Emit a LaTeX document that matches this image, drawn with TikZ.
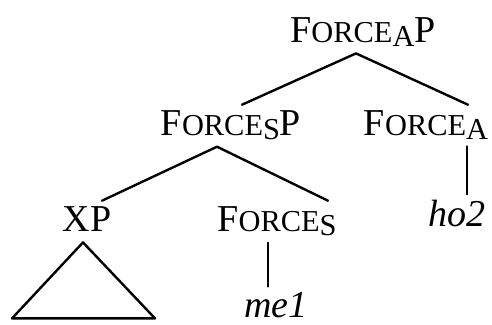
\documentclass[tikz,border=0pt]{standalone}
\usepackage{fontspec}
\setmainfont{Liberation Serif}
\usetikzlibrary{calc}

\newcommand{\smcap}[1]{{\fontsize{15.2pt}{18pt}\selectfont #1}}
\newcommand{\lowcap}[1]{\raisebox{-2pt}{\smcap{#1}}}

\begin{document}
\begin{tikzpicture}[
    x=0.5pt, y=-0.5pt,
    cat/.style={anchor=base, inner sep=3pt, font=\fontsize{19pt}{23pt}\selectfont},
    word/.style={cat, font=\fontsize{19pt}{23pt}\selectfont\itshape},
    branch/.style={line width=1.2pt, line cap=round, line join=round}
    ]
    \useasboundingbox (0,0) rectangle (492,325);

    % labels
    \node[cat] (fap) at (363,43) {F\smcap{ORCE}\lowcap{A}P};
    \node[cat] (fsp) at (231,136) {F\smcap{ORCE}\lowcap{S}P};
    \node[cat] (fa) at (426,136) {F\smcap{ORCE}\lowcap{A}};
    \node[cat] (xp) at (87,232) {XP};
    \node[cat] (fs) at (277,232) {F\smcap{ORCE}\lowcap{S}};
    \node[word] (ho) at (457,227) {ho2};
    \node[word, inner sep=0.5pt] (me) at (276,318) {me1};

    % branches
    \draw[branch] ($(fsp.north)+(11,0)$) -- ($(fap.south)+(-7,0)$) -- ($(fa.north)+(42,0)$);
    \draw[branch] ($(xp.north)+(15,0)$) -- ($(fsp.south)+(-14,0)$) -- ($(fs.north)+(51,0)$);
    \draw[branch] ($(fa.south)+(41,0)$) -- ($(ho.north)+(10,0)$);
    \draw[branch] ($(fs.south)+(-9,0)$) -- ($(me.north)+(-8,-5)$);

    % triangle
    \coordinate (tri) at ($(xp.south)+(-4,4)$);
    \draw[branch] (tri) -- ++(-71,76) -- ++(143,0) -- cycle;
\end{tikzpicture}
\end{document}
